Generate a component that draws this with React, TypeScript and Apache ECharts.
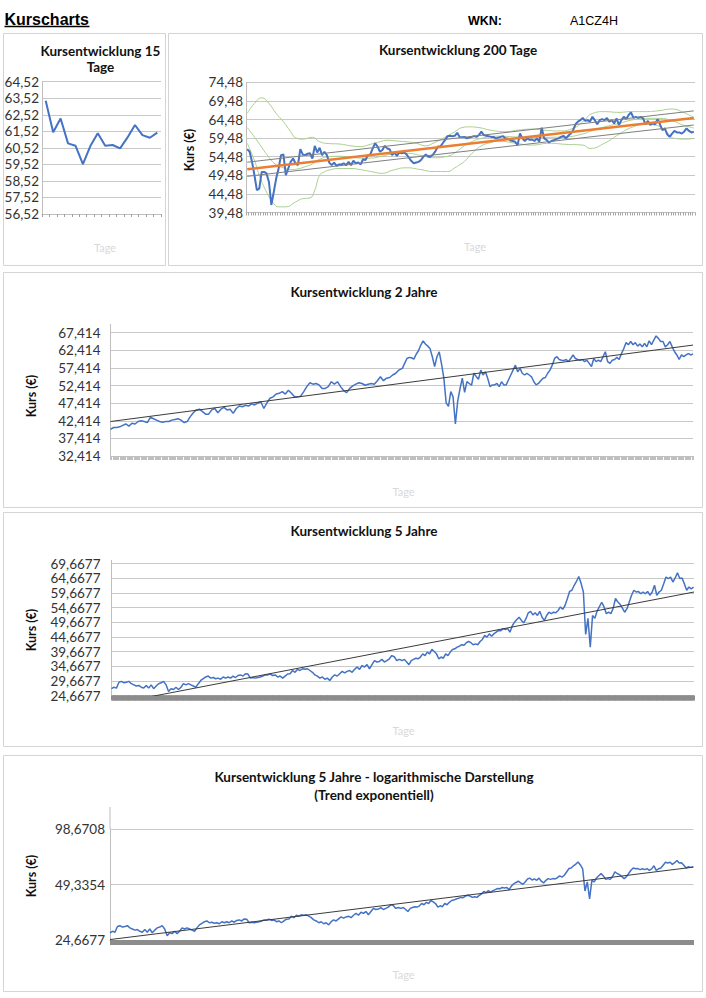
import React, { useEffect, useRef } from "react";
import * as echarts from "echarts";

// ---------------- DATA ----------------
const tage15 = ["1", "2", "3", "4", "5", "6", "7", "8", "9", "10", "11", "12", "13", "14", "15", "16"];
const kurs15 = [63.37, 61.46, 62.3, 60.79, 60.65, 59.54, 60.63, 61.4, 60.65, 60.69, 60.49, 61.15, 61.9, 61.29, 61.13, 61.44];
const yTicks15 = ["56,52", "57,52", "58,52", "59,52", "60,52", "61,52", "62,52", "63,52", "64,52"];

const kurs200 = [
  56.5, 55.8, 53.1, 49.5, 45.5, 45.9, 50.4, 50.4, 50.0, 47.7,
  41.5, 45.0, 48.6, 51.3, 54.9, 55.1, 49.5, 51.3, 53.1, 54.0,
  52.7, 52.2, 56.5, 55.1, 54.9, 55.3, 55.4, 54.0, 57.4, 55.6,
  56.9, 54.9, 55.8, 54.9, 52.9, 52.2, 52.9, 52.0, 52.4, 52.4,
  52.7, 52.2, 53.1, 52.2, 53.4, 52.7, 52.9, 52.4, 53.8, 53.6,
  54.9, 55.1, 56.7, 58.1, 57.2, 55.8, 56.3, 57.4, 56.7, 56.5,
  54.9, 55.6, 54.7, 55.6, 55.4, 55.6, 55.1, 54.2, 53.3, 52.7,
  52.9, 53.1, 53.6, 54.5, 55.1, 54.5, 54.5, 55.1, 56.0, 57.2,
  57.2, 58.1, 59.0, 60.0, 60.1, 60.0, 60.1, 60.9, 59.8, 59.7,
  59.8, 59.4, 59.6,
  59.8, 60.0, 59.8, 60.3, 61.2, 60.3, 60.1, 60.0, 59.8, 59.8,
  59.4, 59.6, 59.8, 60.0, 59.4, 59.4, 58.8, 58.7, 58.5, 57.6,
  60.7, 59.4, 58.7, 59.4, 59.0, 59.1, 58.7, 59.4, 58.5, 62.3,
  59.4, 59.0, 58.3, 58.7, 58.9, 59.2, 59.4, 59.8, 60.1, 59.4,
  60.1, 60.7, 61.6, 63.2, 63.9, 64.3, 64.9, 64.1, 64.3, 63.9,
  65.2, 64.3, 63.2, 64.3, 64.6, 64.3, 64.9, 63.9, 64.3, 63.4,
  64.8, 63.0, 64.3, 65.2, 64.6, 65.7, 66.4, 64.9, 65.2, 64.9,
  65.2, 64.8, 63.2, 64.1, 63.0, 63.4, 63.2, 64.6, 63.2, 61.6,
  62.1, 60.5, 59.8, 60.7, 61.4, 61.0, 61.0, 60.7, 61.2, 62.1,
  61.4, 61.0, 61.2,
];
const bandOben200: [number, number][] = [
  [0, 66.1], [3, 68.8], [6, 70.3], [9, 68.8], [12, 66.1], [15, 63.9], [18, 61.2], [20, 59.6], [23, 59.2],
  [27, 59.7], [30, 58.5], [34, 58.0], [38, 57.9], [43, 57.4], [47, 57.2], [51, 57.8], [55, 58.5], [58, 58.9],
  [62, 58.7], [66, 58.5], [70, 58.1], [74, 57.4], [77, 58.1], [81, 59.4], [86, 61.2], [89, 62.3], [92, 62.5],
  [96, 62.3], [101, 61.6], [107, 61.2], [112, 61.6], [118, 61.9], [123, 61.6], [129, 61.4], [135, 62.1],
  [139, 63.9], [143, 66.1], [148, 66.6], [154, 66.4], [159, 66.6], [165, 66.6], [170, 66.8], [176, 67.3],
  [180, 66.6], [185, 65.0],
];
const bandMitte200: [number, number][] = [
  [0, 62.3], [3, 59.8], [6, 57.0], [9, 54.3], [12, 52.3], [15, 51.5], [18, 51.0], [21, 51.2], [24, 51.8],
  [27, 52.5], [30, 53.8], [34, 54.5], [38, 54.6], [43, 54.4], [47, 54.1], [51, 54.1], [55, 54.5], [60, 55.2],
  [66, 55.4], [72, 54.8], [77, 54.2], [83, 54.6], [86, 55.5], [89, 57.0], [92, 58.2], [97, 59.4], [104, 60.0],
  [111, 59.8], [118, 59.6], [125, 59.7], [132, 59.8], [139, 60.6], [143, 61.5], [148, 62.5], [154, 63.4],
  [159, 64.3], [165, 64.8], [170, 64.8], [176, 64.2], [180, 63.1], [185, 62.2],
];
const bandUnten200: [number, number][] = [
  [0, 58.1], [3, 53.5], [5, 49.5], [8, 45.0], [11, 41.9], [13, 41.0], [16, 41.0], [20, 42.3], [23, 43.2],
  [26, 43.4], [28, 45.5], [30, 49.5], [32, 50.4], [34, 50.9], [38, 51.3], [43, 51.3], [47, 51.0], [52, 50.4],
  [56, 50.0], [60, 50.8], [66, 51.5], [72, 51.0], [77, 50.5], [83, 50.5], [86, 51.5], [88, 52.3], [90, 53.2],
  [93, 55.3], [97, 57.4], [101, 58.3], [104, 58.7], [111, 58.1], [118, 57.6], [125, 58.1], [132, 57.8],
  [139, 57.6], [142, 56.7], [148, 58.1], [154, 60.5], [159, 62.3], [165, 63.2], [169, 63.0], [173, 61.6],
  [177, 59.4], [182, 59.2], [185, 59.4],
];
const trend200 = [51.1, 64.9];
const kanalOben200 = [53.0, 66.8];
const kanalUnten200 = [49.2, 63.0];
const yTicks200 = ["39,48", "44,48", "49,48", "54,48", "59,48", "64,48", "69,48", "74,48"];

const tage2Jahre = 500;
const segment2A = [0, 247];
const segment2B = [250, 499];
const kurs2JahreA = [
  40.0, 40.5, 40.5, 40.7, 41.1, 41.5, 40.9, 41.7, 41.5, 42.2,
  42.4, 42.2, 41.9, 43.4, 43.0, 42.6, 42.2, 42.0, 42.2, 42.2,
  42.6, 42.8, 43.0, 42.6, 41.9, 42.2, 43.6, 44.7, 45.5, 45.7,
  45.0, 44.3, 44.3, 45.5, 45.9, 44.7, 45.7, 46.2, 45.5, 45.7,
  44.5, 45.9, 46.6, 46.4, 46.8, 46.6, 47.2, 46.9, 47.4, 47.8,
  45.9, 47.5, 48.8, 49.2, 50.0, 50.2, 50.7, 50.0, 51.1, 50.2,
  49.2, 49.2, 49.4, 50.7, 52.1, 53.2, 52.8, 53.0, 52.6, 51.6,
  51.6, 52.1, 53.5, 52.8, 53.5, 52.1, 51.0, 50.4, 51.6, 52.3,
  52.8, 53.2, 53.0, 52.5, 52.8, 53.0, 52.8, 53.8, 54.9, 53.8,
  54.5, 54.7, 55.4, 55.9, 56.8,
];
const kurs2JahreB = [
  57.3, 58.7, 60.1, 60.4, 60.3, 59.9, 61.3, 62.3, 63.9, 65.1,
  64.2, 63.6, 62.9,
  60.6, 57.8, 60.6, 62.0, 58.5, 54.5, 47.5, 46.5, 50.7, 49.2, 41.5, 48.0, 51.5, 54.5, 50.5, 53.5,
  53.0, 52.5, 55.9, 55.0, 54.2, 56.8, 55.4, 56.3, 54.5, 52.1,
  52.6, 52.6, 53.0, 52.1, 53.5, 52.6, 52.6, 54.0, 55.4, 56.8,
  58.2, 56.3, 57.3, 55.9, 55.4, 55.9, 55.4, 54.9, 53.5, 52.6,
  53.0, 53.8, 54.5, 54.7, 55.9, 56.8, 58.2, 60.1, 60.6, 59.8,
  59.6, 59.5, 59.8, 59.2, 60.1, 61.1, 60.1, 59.8, 59.6, 59.8,
  59.2, 59.6, 58.7, 57.8, 60.1, 59.2, 59.6, 59.2, 60.6, 62.0,
  59.2, 58.7, 59.6, 59.8, 60.4, 59.8, 61.5, 62.9, 64.6, 64.0,
  64.9, 64.0, 64.6, 63.6, 64.2, 63.4, 64.4, 63.4, 65.1, 64.0,
  65.3, 66.5, 65.8, 64.9, 64.9, 63.4, 64.0, 64.9, 63.4, 62.0,
  61.1, 59.8, 61.1, 60.6, 61.1, 61.5, 61.1, 61.4,
];
const trend2Jahre = [42.2, 63.9];
const yTicks2Jahre = ["32,414", "37,414", "42,414", "47,414", "52,414", "57,414", "62,414", "67,414"];

const tage5Jahre = 1250;
const segment5A = [0, 617];
const segment5B = [623, 1248];
const kurs5JahreA = [
  27.0, 27.5, 27.2, 29.2, 29.5, 29.0, 29.2, 29.5, 28.7, 28.3,
  27.9, 28.1, 27.5, 27.2, 28.1, 27.2, 28.3, 27.0, 27.9, 28.7,
  29.0, 29.5, 28.3, 26.0, 27.0, 26.7, 27.5, 26.7, 27.5, 28.7,
  28.3, 28.7, 28.3, 27.9, 27.5, 28.7, 29.8, 30.4, 31.0, 31.3,
  30.6, 30.8, 30.4, 30.6, 30.2, 31.0, 30.6, 31.0, 30.6, 31.3,
  30.8, 31.5, 31.7, 31.3, 32.1, 32.0, 30.6, 30.8, 30.6, 30.8,
  31.0, 31.3, 31.7, 31.7, 32.0, 31.5, 31.7, 31.0, 31.3, 30.6,
  31.3, 32.0, 32.1, 33.2, 32.6, 33.6, 33.2, 33.8, 33.6, 33.8,
  33.2, 32.6, 31.7, 31.3, 30.6, 31.0, 30.2, 30.6, 29.8, 31.0,
  31.7, 31.3, 32.1, 32.9, 32.4, 32.9, 33.2, 32.6, 33.6, 34.4,
  33.6, 34.9, 34.4, 35.2, 33.8, 35.2, 36.6, 36.1, 36.3, 37.0,
  36.1, 36.6, 37.2, 38.3, 37.9, 36.6, 37.0,
];
const kurs5JahreB = [
  36.6, 37.0, 36.1, 35.2, 36.6, 37.0, 37.4, 37.2,
  37.8, 38.9, 38.3, 39.5, 38.9, 40.4, 39.7, 38.9, 37.2, 37.8,
  37.4, 38.9, 38.3, 39.5, 40.4, 40.6, 41.2, 41.5, 42.0, 41.8,
  42.7, 43.1, 42.7, 42.0, 42.3, 42.0, 43.1, 43.8, 45.2, 44.6,
  45.7, 44.9, 45.7, 46.3, 46.9, 46.8, 47.5, 47.2, 47.5, 46.3,
  48.4, 49.7, 50.6, 51.4, 50.3, 49.5, 50.9, 52.9, 53.4, 52.2,
  52.9, 52.0, 53.4, 51.4, 50.3, 52.0, 53.1, 52.6, 53.1, 52.9,
  53.7, 54.9, 54.1, 55.4, 57.7, 60.2, 60.6, 62.3, 63.6, 65.3,
  63.0, 60.0, 45.5, 51.0, 41.2, 52.0, 51.0, 53.5, 55.0, 56.5,
  54.9, 52.6, 53.1, 52.6, 54.5, 57.8, 56.6, 55.8, 54.5, 53.1,
  54.3, 56.6, 58.9, 60.6, 60.0, 60.2, 59.4, 60.0, 59.4, 60.2,
  58.9, 60.0, 62.3, 58.9, 60.0, 60.6, 62.8, 65.1, 64.6, 65.1,
  63.4, 64.8, 66.6, 64.6, 64.8, 62.8, 60.6, 61.7, 61.1, 61.7,
];
const trend5Jahre = [21.7, 60.0];
const trend5JahreExp = [24.8, 61.3];
const yTicks5Jahre = ["24,6677", "29,6677", "34,6677", "39,6677", "44,6677", "49,6677", "54,6677", "59,6677", "64,6677", "69,6677"];
const yTicks5JahreLog = ["24,6677", "49,3354", "98,6708"];

// ---------------- HELPERS ----------------
const FONT = "Lato, 'Open Sans', 'DejaVu Sans', sans-serif";
const ARIAL = "'Liberation Sans', Arial, sans-serif";
const BLUE = "#4472c4";
const GRID_LINE = "#c8c8c8";
const AXIS_LINE = "#bfbfbf";

const num = (s: string) => parseFloat(s.replace(",", "."));
const spread = (values: number[], seg: number[]) =>
  values.map((v, i) => [seg[0] + (i * (seg[1] - seg[0])) / (values.length - 1), v]);
const dayLabels = (n: number) => Array.from({ length: n }, (_, i) => String(i + 1));

function yAxis(gridIndex: number, ticks: string[], step: number, margin: number) {
  return {
    type: "value",
    gridIndex,
    min: 0,
    max: step * (ticks.length - 1),
    interval: step,
    axisLine: { show: true, lineStyle: { color: AXIS_LINE, width: 1 } },
    axisTick: { show: false },
    axisLabel: {
      formatter: (v: number) => ticks[Math.round(v / step)] ?? "",
      color: "#333333",
      fontFamily: FONT,
      fontSize: 13.5,
      margin,
    },
    splitLine: { show: true, lineStyle: { color: GRID_LINE, width: 1 } },
  };
}

function xCat(gridIndex: number, data: string[], tickLen: number, tickColor: string) {
  return {
    type: "category",
    gridIndex,
    data,
    boundaryGap: true,
    axisLine: { show: true, lineStyle: { color: AXIS_LINE, width: 1 } },
    axisTick: { show: true, interval: 0, length: tickLen, lineStyle: { color: tickColor, width: 1 } },
    axisLabel: { show: false },
    splitLine: { show: false },
  };
}

function line(xi: number, yi: number, data: any[], color: string, width: number, z: number, smooth = false) {
  return {
    type: "line",
    xAxisIndex: xi,
    yAxisIndex: yi,
    data,
    symbol: "none",
    smooth,
    silent: true,
    lineStyle: { color, width },
    itemStyle: { color },
    emphasis: { disabled: true },
    z,
  };
}

function text(x: number, y: number, t: string, o: any = {}) {
  return {
    type: "text",
    x,
    y,
    rotation: o.rotation ?? 0,
    silent: true,
    style: {
      text: t,
      fill: o.fill ?? "#111111",
      fontFamily: o.fontFamily ?? FONT,
      fontSize: o.fontSize ?? 13.5,
      fontWeight: o.fontWeight ?? "bold",
      align: o.align ?? "center",
      verticalAlign: "middle",
    },
  };
}

function vline(x: number, y1: number, y2: number) {
  return { type: "line", silent: true, shape: { x1: x, y1, x2: x, y2 }, style: { stroke: AXIS_LINE, lineWidth: 1 } };
}

function buildOption() {
  const b15 = num(yTicks15[0]);
  const b200 = num(yTicks200[0]);
  const b2 = num(yTicks2Jahre[0]);
  const b5 = num(yTicks5Jahre[0]);
  const b5log = num(yTicks5JahreLog[0]);
  const last200 = kurs200.length - 1;

  const p3 = [...spread(kurs2JahreA, segment2A), ...spread(kurs2JahreB, segment2B)].map(([d, v]) => [d, v - b2]);
  const p4raw = [...spread(kurs5JahreA, segment5A), ...spread(kurs5JahreB, segment5B)];
  const p4 = p4raw.map(([d, v]) => [d, v - b5]);
  const p5 = p4raw.map(([d, v]) => [d, Math.log2(v / b5log)]);

  const shift = (pairs: [number, number][], base: number) => pairs.map(([i, v]) => [i, v - base]);
  const two200 = (arr: number[]) => [[0, arr[0] - b200], [last200, arr[1] - b200]];
  const kursName = { rotation: Math.PI / 2, fontSize: 12.5 };
  const tageName = { fill: "#d9d9d9", fontSize: 11, fontWeight: "normal" };
  const frame = { fill: "none", stroke: "#d4d4d4", lineWidth: 1 };

  return {
    animation: false,
    backgroundColor: "#ffffff",
    grid: [
      { left: 42, top: 81.7, width: 119, height: 132.3 },
      { left: 246, top: 82.3, width: 449, height: 130.2 },
      { left: 110.5, top: 332.7, width: 582.5, height: 123.3 },
      { left: 111.5, top: 563.7, width: 582.5, height: 131.8 },
      { left: 110, top: 829, width: 583.5, height: 111 },
    ],
    xAxis: [
      xCat(0, tage15, 3, "#a0a0a0"),
      xCat(1, dayLabels(kurs200.length), 3, "#a6a6a6"),
      xCat(2, dayLabels(tage2Jahre), 4, "#c0c0c0"),
      { type: "value", gridIndex: 2, min: 0, max: tage2Jahre - 1, show: false },
      xCat(3, dayLabels(tage5Jahre), 5, "#8c8c8c"),
      { type: "value", gridIndex: 3, min: 0, max: tage5Jahre - 1, show: false },
      xCat(4, dayLabels(tage5Jahre), 5, "#8c8c8c"),
      { type: "value", gridIndex: 4, min: 0, max: tage5Jahre - 1, show: false },
    ],
    yAxis: [
      yAxis(0, yTicks15, 1, 3),
      yAxis(1, yTicks200, 5, 3),
      yAxis(2, yTicks2Jahre, 5, 10),
      yAxis(3, yTicks5Jahre, 5, 11),
      yAxis(4, yTicks5JahreLog, 1, 5),
    ],
    series: [
      line(0, 0, kurs15.map((v) => v - b15), BLUE, 2, 3),

      line(1, 1, shift(bandOben200, b200), "#a9d08e", 1, 2, true),
      line(1, 1, shift(bandMitte200, b200), "#a9d08e", 1, 2, true),
      line(1, 1, shift(bandUnten200, b200), "#a9d08e", 1, 2, true),
      line(1, 1, kurs200.map((v) => v - b200), BLUE, 2, 3),
      line(1, 1, two200(kanalOben200), "#7f7f7f", 1, 4),
      line(1, 1, two200(kanalUnten200), "#7f7f7f", 1, 4),
      line(1, 1, two200(trend200), "#ed7d31", 2.5, 5),

      line(3, 2, p3, BLUE, 1.5, 3),
      line(3, 2, [[0, trend2Jahre[0] - b2], [tage2Jahre - 1, trend2Jahre[1] - b2]], "#3b3b3b", 1, 4),

      line(5, 3, p4, BLUE, 1.5, 3),
      line(5, 3, [[0, trend5Jahre[0] - b5], [tage5Jahre - 1, trend5Jahre[1] - b5]], "#3b3b3b", 1, 4),

      line(7, 4, p5, BLUE, 1.5, 3),
      line(7, 4, [[0, Math.log2(trend5JahreExp[0] / b5log)], [tage5Jahre - 1, Math.log2(trend5JahreExp[1] / b5log)]], "#3b3b3b", 1, 4),
    ],
    graphic: [
      // panel frames
      { type: "rect", silent: true, shape: { x: 3.5, y: 33.5, width: 162, height: 232 }, style: frame },
      { type: "rect", silent: true, shape: { x: 168.5, y: 33.5, width: 534, height: 232 }, style: frame },
      { type: "rect", silent: true, shape: { x: 3.5, y: 272.5, width: 699, height: 235 }, style: frame },
      { type: "rect", silent: true, shape: { x: 3.5, y: 512.5, width: 699, height: 234 }, style: frame },
      { type: "rect", silent: true, shape: { x: 3.5, y: 755.5, width: 699, height: 236 }, style: frame },

      // header
      text(4.5, 19, "Kurscharts", { align: "left", fontFamily: ARIAL, fontSize: 16, fill: "#000" }),
      { type: "line", silent: true, shape: { x1: 4.5, y1: 26.5, x2: 89.5, y2: 26.5 }, style: { stroke: "#000", lineWidth: 1.5 } },
      text(468, 20.5, "WKN:", { align: "left", fontFamily: ARIAL, fontSize: 12.5, fill: "#000" }),
      text(570, 20.5, "A1CZ4H", { align: "left", fontFamily: "'Liberation Sans Narrow', 'Liberation Sans', Arial, sans-serif", fontSize: 12.5, fontWeight: "normal", fill: "#000" }),

      // titles
      text(100.5, 50.7, "Kursentwicklung 15"),
      text(100.5, 67.3, "Tage"),
      text(458, 50, "Kursentwicklung 200 Tage"),
      text(364, 292, "Kursentwicklung 2 Jahre"),
      text(364, 531, "Kursentwicklung 5 Jahre"),
      text(374, 777.3, "Kursentwicklung 5 Jahre - logarithmische Darstellung"),
      text(374, 794.5, "(Trend exponentiell)"),

      // y axis names
      text(189, 150, "Kurs (€)", kursName),
      text(31.6, 396, "Kurs (€)", kursName),
      text(31.6, 630, "Kurs (€)", kursName),
      text(31.6, 876, "Kurs (€)", kursName),

      // x axis names
      text(105, 247.3, "Tage", tageName),
      text(475, 246.7, "Tage", tageName),
      text(403.5, 491, "Tage", tageName),
      text(403.5, 730, "Tage", tageName),
      text(403.5, 974, "Tage", tageName),

      // value axes reaching above the top gridline
      vline(110.5, 324, 332.7),
      vline(111.5, 560, 563.7),
      vline(110, 807, 829),
    ],
  };
}

export default function App() {
  const ref = useRef<HTMLDivElement>(null);
  useEffect(() => {
    if (!ref.current) return;
    const chart = echarts.init(ref.current, null, { renderer: "svg", width: 706, height: 998 });
    chart.setOption(buildOption() as any);
    return () => chart.dispose();
  }, []);
  return (
    <div
      ref={ref}
      style={{ position: "absolute", left: 0, top: 0, width: 706, height: 998, background: "#ffffff" }}
    />
  );
}
